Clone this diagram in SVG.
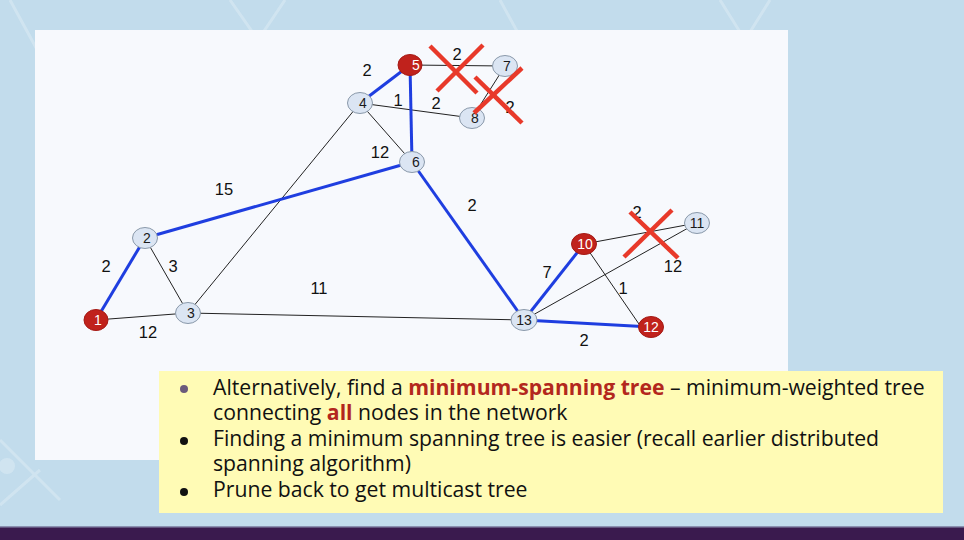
<svg xmlns="http://www.w3.org/2000/svg" width="964" height="540" viewBox="0 0 964 540">
<style>
.lt{fill:#dbe5f3;stroke:#8a99aa;stroke-width:1}
.rd{fill:#c0221c;stroke:#a51a15;stroke-width:1}
.nl{font-family:"Liberation Sans",Arial,sans-serif;font-size:14px;text-anchor:middle;fill:#1a1a1a}
.nw{fill:#ffffff}
.e{stroke:#222;stroke-width:1;fill:none}
.b{stroke:#1f3ee0;stroke-width:3;fill:none}
.w{font-family:"Liberation Sans",Arial,sans-serif;font-size:16.5px;text-anchor:middle;fill:#111}
.x{stroke:#e8392a;stroke-width:4.5;stroke-linecap:butt}
.t{font-family:"Open Sans","Noto Sans",sans-serif;font-size:21.2px;fill:#111}
.r{fill:#b3271d;font-weight:bold}
.deco{stroke:#d3e6f1;stroke-width:3;fill:none;opacity:0.8}
</style>
<rect x="0" y="0" width="964" height="540" fill="#c2dcec"/>
<g id="decoration">
<path class="deco" d="M10 0 L40 55 M230 0 L258 40 L285 0 M500 0 L530 55 M720 0 L745 40 L770 0 M0 505 L40 470 M0 440 L60 500"/>
<circle cx="7" cy="466" r="8" fill="#d3e6f1" opacity="0.8"/>
</g>
<rect x="0" y="527" width="964" height="13" fill="#3a1a4e"/>
<rect x="0" y="526" width="964" height="1.5" fill="#8a90b0"/>
<rect x="35" y="30" width="753" height="430" fill="#f7f9fd"/>
<g id="connectors">
<line class="e" x1="96" y1="320" x2="188" y2="313"/>
<line class="e" x1="145" y1="238" x2="188" y2="313"/>
<line class="e" x1="188" y1="313" x2="360" y2="103"/>
<line class="e" x1="188" y1="313" x2="524" y2="320"/>
<line class="e" x1="360" y1="103" x2="472" y2="118"/>
<line class="e" x1="360" y1="103" x2="412" y2="162"/>
<line class="e" x1="410" y1="65" x2="505" y2="66"/>
<line class="e" x1="505" y1="66" x2="472" y2="118"/>
<line class="e" x1="584" y1="244" x2="697" y2="223"/>
<line class="e" x1="584" y1="244" x2="641" y2="327"/>
<line class="e" x1="524" y1="320" x2="697" y2="223"/>
<line class="b" x1="96" y1="320" x2="145" y2="238"/>
<line class="b" x1="145" y1="238" x2="412" y2="162"/>
<line class="b" x1="360" y1="103" x2="410" y2="65"/>
<line class="b" x1="410" y1="65" x2="412" y2="162"/>
<line class="b" x1="412" y1="162" x2="524" y2="320"/>
<line class="b" x1="524" y1="320" x2="584" y2="244"/>
<line class="b" x1="524" y1="320" x2="651" y2="327"/>
</g>
<g id="weights">
<text class="w" x="367" y="76">2</text>
<text class="w" x="457" y="60">2</text>
<text class="w" x="398" y="106">1</text>
<text class="w" x="436" y="109">2</text>
<text class="w" x="510" y="113">2</text>
<text class="w" x="380" y="158">12</text>
<text class="w" x="224" y="195">15</text>
<text class="w" x="472" y="211">2</text>
<text class="w" x="106" y="272">2</text>
<text class="w" x="173" y="272">3</text>
<text class="w" x="319" y="294">11</text>
<text class="w" x="148" y="338">12</text>
<text class="w" x="547" y="278">7</text>
<text class="w" x="637" y="218">2</text>
<text class="w" x="673" y="272">12</text>
<text class="w" x="623" y="294">1</text>
<text class="w" x="584" y="346">2</text>
</g>
<g id="n1"><ellipse class="rd" cx="96" cy="320" rx="12" ry="10.5"/><text class="nl nw" x="98" y="325">1</text></g>
<g id="n2"><ellipse class="lt" cx="145" cy="238" rx="12.5" ry="10.5"/><text class="nl" x="147" y="243">2</text></g>
<g id="n3"><ellipse class="lt" cx="188" cy="313" rx="12.5" ry="10.5"/><text class="nl" x="191" y="318">3</text></g>
<g id="n4"><ellipse class="lt" cx="360" cy="103" rx="12.5" ry="10.5"/><text class="nl" x="363" y="108">4</text></g>
<g id="n5"><ellipse class="rd" cx="410" cy="65" rx="12" ry="10.5"/><text class="nl nw" x="416" y="70">5</text></g>
<g id="n6"><ellipse class="lt" cx="412" cy="162" rx="12.5" ry="10.5"/><text class="nl" x="416" y="167">6</text></g>
<g id="n7"><ellipse class="lt" cx="505" cy="66" rx="12.5" ry="10.5"/><text class="nl" x="507" y="71">7</text></g>
<g id="n8"><ellipse class="lt" cx="472" cy="118" rx="12.5" ry="10.5"/><text class="nl" x="475" y="123">8</text></g>
<g id="n10"><ellipse class="rd" cx="584" cy="244" rx="12.5" ry="10.5"/><text class="nl nw" x="585" y="249">10</text></g>
<g id="n11"><ellipse class="lt" cx="697" cy="223" rx="12.5" ry="10.5"/><text class="nl" x="697" y="228">11</text></g>
<g id="n12"><ellipse class="rd" cx="651" cy="327" rx="12.5" ry="10.5"/><text class="nl nw" x="651" y="332">12</text></g>
<g id="n13"><ellipse class="lt" cx="524" cy="320" rx="13" ry="10.5"/><text class="nl" x="524" y="325">13</text></g>
<g id="crosses">
<line class="x" x1="430" y1="46" x2="477" y2="93"/>
<line class="x" x1="483" y1="45" x2="437" y2="91"/>
<line class="x" x1="475" y1="77" x2="522" y2="123"/>
<line class="x" x1="522" y1="68" x2="474" y2="113"/>
<line class="x" x1="630" y1="212" x2="678" y2="258"/>
<line class="x" x1="672" y1="210" x2="624" y2="257"/>
</g>
<g id="notes">
<rect x="159" y="371" width="784" height="142" fill="#fffbb5"/>
<circle cx="184" cy="389" r="4" fill="#6b5a7b"/>
<circle cx="184" cy="441" r="4" fill="#111"/>
<circle cx="184" cy="492" r="4" fill="#111"/>
<text class="t" x="213" y="395">Alternatively, find a <tspan class="r">minimum-spanning tree</tspan> – minimum-weighted tree</text>
<text class="t" x="213" y="420">connecting <tspan class="r">all</tspan> nodes in the network</text>
<text class="t" x="213" y="446">Finding a minimum spanning tree is easier (recall earlier distributed</text>
<text class="t" x="213" y="471">spanning algorithm)</text>
<text class="t" x="213" y="497">Prune back to get multicast tree</text>
</g>
</svg>
